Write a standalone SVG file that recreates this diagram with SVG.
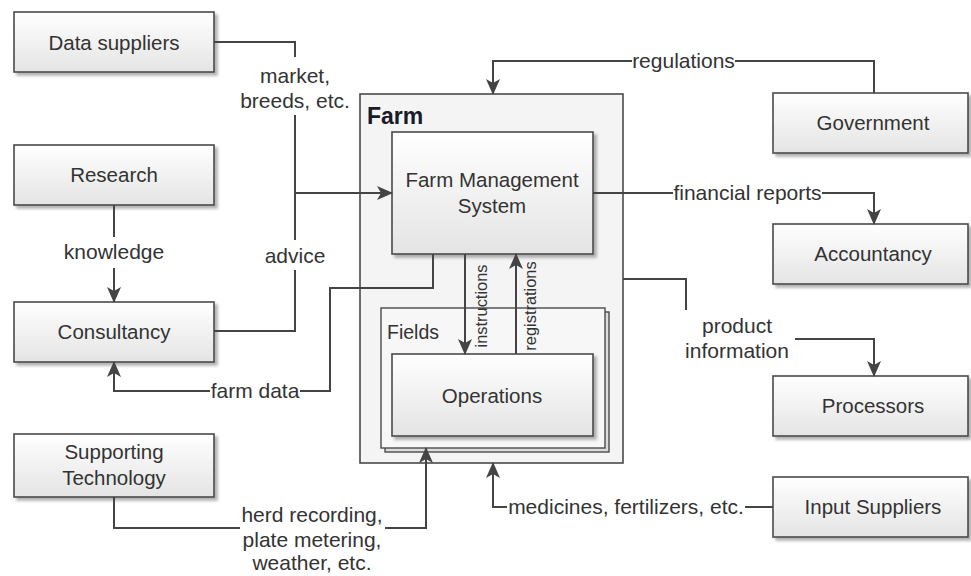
<svg xmlns="http://www.w3.org/2000/svg" width="971" height="576" viewBox="0 0 971 576">
<style>
.box{fill:url(#g);stroke:#4a4a4a;stroke-width:1.6;filter:url(#sh)}
.t{font-family:"Liberation Sans",Arial,sans-serif;font-size:20.5px;fill:#333;text-anchor:middle}
.l{font-family:"Liberation Sans",Arial,sans-serif;font-size:21px;fill:#333;text-anchor:middle}
.c{fill:none;stroke:#444;stroke-width:2}
.a{marker-end:url(#ar)}
</style>
<defs>
<linearGradient id="g" x1="0" y1="0" x2="0" y2="1">
<stop offset="0" stop-color="#ffffff"/>
<stop offset="1" stop-color="#e4e4e4"/>
</linearGradient>
<filter id="sh" x="-10%" y="-10%" width="125%" height="130%">
<feDropShadow dx="3" dy="3" stdDeviation="1.5" flood-color="#000" flood-opacity="0.3"/>
</filter>
<marker id="ar" markerUnits="userSpaceOnUse" markerWidth="16" markerHeight="14" refX="15" refY="7" orient="auto" viewBox="0 0 16 14">
<path d="M0,0 L16,7 L0,14 L4,7 z" fill="#444"/>
</marker>
</defs>

<g id="farm">
<rect x="360" y="94" width="263" height="369" fill="#f4f4f4" stroke="#4a4a4a" stroke-width="1.6"/>
<text x="367" y="124" style="font-family:'Liberation Sans',Arial,sans-serif;font-size:23px;font-weight:bold;fill:#1a1a2a">Farm</text>
</g>

<g id="fields">
<rect x="385" y="312" width="224" height="140" fill="#dcdcdc" stroke="#4a4a4a" stroke-width="1.4"/>
<rect x="381" y="308" width="224" height="140" fill="#f7f7f7" stroke="#4a4a4a" stroke-width="1.4"/>
<text x="387" y="339" style="font-family:'Liberation Sans',Arial,sans-serif;font-size:19.5px;fill:#333">Fields</text>
</g>

<g id="fms">
<rect class="box" x="392" y="132" width="201" height="122"/>
<text class="t" x="492" y="187">Farm Management</text>
<text class="t" x="492" y="213">System</text>
</g>

<g id="operations">
<rect class="box" x="392" y="354" width="201" height="82"/>
<text class="t" x="492" y="403">Operations</text>
</g>

<g id="data-suppliers">
<rect class="box" x="14" y="12" width="200" height="60"/>
<text class="t" x="114" y="50">Data suppliers</text>
</g>

<g id="research">
<rect class="box" x="14" y="145" width="200" height="60"/>
<text class="t" x="114" y="182">Research</text>
</g>

<g id="consultancy">
<rect class="box" x="14" y="302" width="200" height="60"/>
<text class="t" x="114" y="339">Consultancy</text>
</g>

<g id="supporting-technology">
<rect class="box" x="14" y="434" width="200" height="63"/>
<text class="t" x="114" y="459">Supporting</text>
<text class="t" x="114" y="485">Technology</text>
</g>

<g id="government">
<rect class="box" x="773" y="93" width="195" height="60"/>
<text class="t" x="873" y="130">Government</text>
</g>

<g id="accountancy">
<rect class="box" x="773" y="224" width="195" height="60"/>
<text class="t" x="873" y="261">Accountancy</text>
</g>

<g id="processors">
<rect class="box" x="773" y="376" width="195" height="60"/>
<text class="t" x="873" y="413">Processors</text>
</g>

<g id="input-suppliers">
<rect class="box" x="773" y="477" width="195" height="60"/>
<text class="t" x="873" y="514">Input Suppliers</text>
</g>

<g id="connectors">
<path class="c" d="M214,42 H295 V57"/>
<path class="c" d="M295,115 V240"/>
<path class="c" d="M295,270 V331 H214"/>
<path class="c a" d="M295,193 H392"/>
<text class="l" x="295" y="83">market,</text>
<text class="l" x="295" y="108">breeds, etc.</text>
<text class="l" x="295" y="263">advice</text>

<path class="c" d="M114,205 V237"/>
<path class="c a" d="M114,268 V302"/>
<text class="l" x="114" y="259">knowledge</text>

<path class="c" d="M433,254 V288 H330 V391 H300"/>
<path class="c a" d="M210,391 H114 V362"/>
<text class="l" x="255" y="398">farm data</text>

<path class="c a" d="M465,254 V354"/>
<path class="c a" d="M516,354 V254"/>
<text class="l" style="font-size:16.4px" transform="translate(487,306) rotate(-90)">instructions</text>
<text class="l" style="font-size:16.4px" transform="translate(536,306) rotate(-90)">registrations</text>

<path class="c" d="M874,93 V61 H735"/>
<path class="c a" d="M632,61 H493 V94"/>
<text class="l" x="683.5" y="68">regulations</text>

<path class="c" d="M593,193 H673"/>
<path class="c a" d="M822,193 H874 V224"/>
<text class="l" x="747.5" y="200">financial reports</text>

<path class="c" d="M623,279 H686 V310"/>
<path class="c a" d="M795,339 H874 V376"/>
<text class="l" x="737" y="333">product</text>
<text class="l" x="737" y="358">information</text>

<path class="c" d="M114,497 V528 H240"/>
<path class="c a" d="M385,528 H426 V448"/>
<text class="l" x="312" y="522">herd recording,</text>
<text class="l" x="312" y="547">plate metering,</text>
<text class="l" x="312" y="570">weather, etc.</text>

<path class="c" d="M773,507 H745"/>
<path class="c a" d="M507,507 H493 V463"/>
<text class="l" x="626" y="514">medicines, fertilizers, etc.</text>
</g>
</svg>
